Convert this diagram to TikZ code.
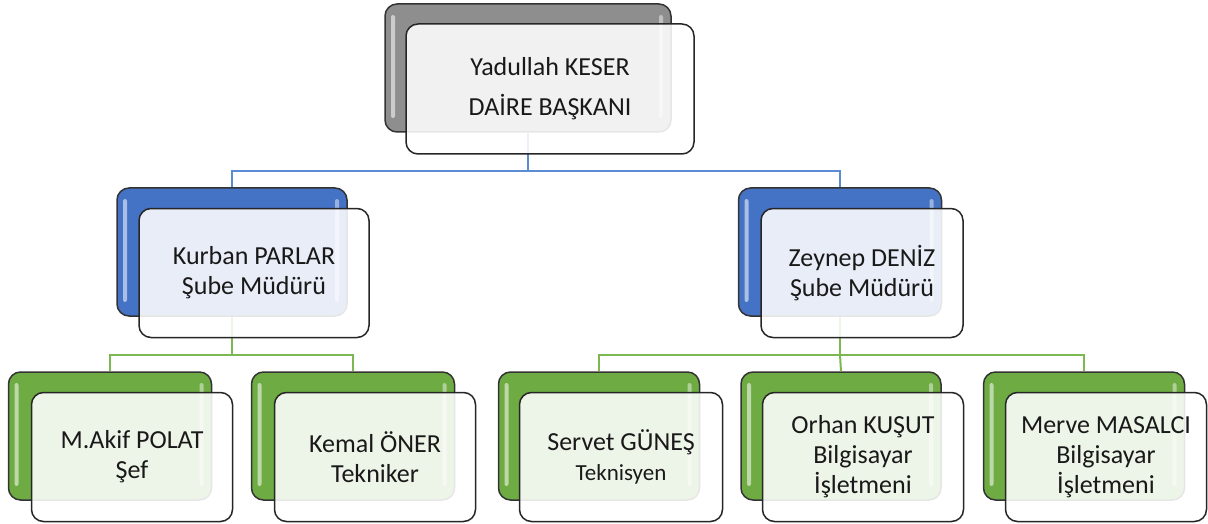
\documentclass[tikz,border=0pt]{standalone}
\usepackage{fontspec}
\setmainfont{Carlito}
\usepackage{tikz}
\usetikzlibrary{calc}
\definecolor{boxgray}{HTML}{8E8E8E}
\definecolor{boxblue}{HTML}{4472C4}
\definecolor{boxgreen}{HTML}{6EAB42}
\definecolor{lineblue}{HTML}{5B8BD2}
\definecolor{linegreen}{HTML}{7BB851}
\tikzstyle{back} = [draw=black!80, line width=1.5pt, rounded corners=12pt, minimum height=128pt, inner sep=0pt,
  path picture={
    \fill[white, opacity=0.55, rounded corners=2pt] ([xshift=6pt,yshift=-11pt]path picture bounding box.north west) rectangle ([xshift=10pt,yshift=14pt]path picture bounding box.south west);
    \fill[white, opacity=0.45, rounded corners=2pt] ([xshift=-12pt,yshift=-11pt]path picture bounding box.north east) rectangle ([xshift=-8pt,yshift=14pt]path picture bounding box.south east);
  }]
\tikzstyle{front} = [draw=black!85, line width=1.5pt, rounded corners=12pt, fill=white, fill opacity=0.88, text opacity=1,
  minimum height=129pt, align=center, xshift=22pt, yshift=-21pt, text=black!90, font=\fontsize{26}{30}\selectfont]
\tikzstyle{bluelink} = [draw=lineblue, line width=2pt]
\tikzstyle{greenlink} = [draw=linegreen, line width=2pt]

\begin{document}
\begin{tikzpicture}[x=1pt,y=-1pt]
\useasboundingbox (0,0) rectangle (1208,524);

% back boxes
\node[back, fill=boxgray, minimum width=286pt] (b0) at (528,68) {};
\node[back, fill=boxblue, minimum width=230pt] (b1) at (232,252) {};
\node[back, fill=boxblue, minimum width=203pt] (b2) at (840,252) {};
\node[back, fill=boxgreen, minimum width=203pt] (b11) at (110,436) {};
\node[back, fill=boxgreen, minimum width=203pt] (b12) at (353,436) {};
\node[back, fill=boxgreen, minimum width=201pt] (b21) at (599,436) {};
\node[back, fill=boxgreen, minimum width=200pt] (b22) at (841,436) {};
\node[back, fill=boxgreen, minimum width=201pt] (b23) at (1084,436) {};

% connectors
\coordinate (bus0) at (0,171);
\coordinate (bus1) at (0,355);
\draw[bluelink] (b0.south) -- (b0.south |- bus0) -| (b1.north);
\draw[bluelink] (b0.south |- bus0) -| (b2.north);
\draw[greenlink] (b1.south) -- (b1.south |- bus1) -| (b11.north);
\draw[greenlink] (b1.south |- bus1) -| (b12.north);
\draw[greenlink] (b2.south) -- (b2.south |- bus1) -| (b21.north);
\draw[greenlink] (b2.south |- bus1) -- (b22.north);
\draw[greenlink] (b2.south |- bus1) -| (b23.north);

% front boxes
\node[front, minimum width=288pt, minimum height=130pt, font=\fontsize{26}{40}\selectfont] (f0) at (b0) {Yadullah KESER\\DAİRE BAŞKANI};
\node[front, minimum width=230pt] (f1) at (b1) {Kurban PARLAR\\Şube Müdürü};
\node[front, minimum width=202pt] (f2) at (b2) {Zeynep DENİZ\\Şube Müdürü};
\node[front, minimum width=201pt] (f11) at (b11) {M.Akif POLAT\\Şef};
\node[front, minimum width=201pt] (f12) at (b12) {Kemal ÖNER\\Tekniker};
\node[front, minimum width=203pt] (f21) at (b21) {Servet GÜNEŞ\\{\fontsize{23}{28}\selectfont Teknisyen}};
\node[front, minimum width=201pt] (f22) at (b22) {Orhan KUŞUT\\Bilgisayar\\İşletmeni};
\node[front, minimum width=201pt] (f23) at (b23) {Merve MASALCI\\Bilgisayar\\İşletmeni};

\end{tikzpicture}
\end{document}
